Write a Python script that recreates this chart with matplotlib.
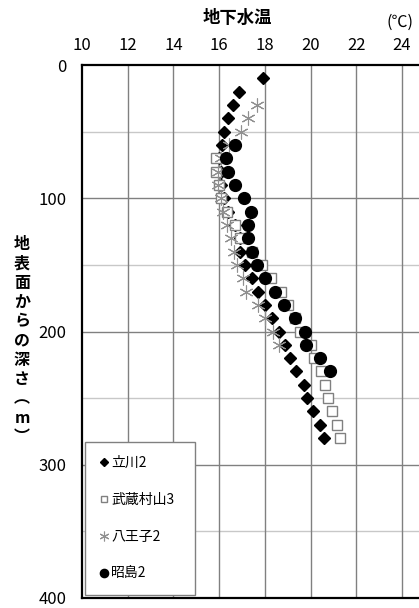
import numpy as np
import matplotlib
matplotlib.use("Agg")
import matplotlib.pyplot as plt

plt.rcParams['font.family'] = ['Noto Sans CJK JP', 'DejaVu Sans']

# 深さ(m)と地下水温(℃)
depth_tachikawa = [10, 20, 30, 40, 50, 60, 70, 80, 90, 100, 110, 120, 130, 140, 150, 160, 170,
                   180, 190, 200, 210, 220, 230, 240, 250, 260, 270, 280]
temp_tachikawa = [17.93, 16.89, 16.61, 16.39, 16.22, 16.11, 16.0, 16.1, 16.1, 16.2, 16.4, 16.7, 16.9,
                  16.92, 17.13, 17.42, 17.69, 18.0, 18.33, 18.6, 18.9, 19.09, 19.38, 19.71, 19.85,
                  20.11, 20.41, 20.58]

depth_musashi = [70, 80, 90, 100, 110, 120, 130, 140, 150, 160, 170, 180, 190, 200, 210, 220,
                 230, 240, 250, 260, 270, 280]
temp_musashi = [15.87, 15.87, 15.98, 16.07, 16.35, 16.68, 16.91, 17.45, 17.89, 18.28, 18.69,
                19.03, 19.3, 19.56, 20.0, 20.15, 20.44, 20.62, 20.77, 20.92, 21.14, 21.31]

depth_hachioji = [30, 40, 50, 60, 70, 80, 90, 100, 110, 120, 130, 140, 150, 160, 170, 180, 190,
                  200, 210]
temp_hachioji = [17.67, 17.26, 16.97, 16.45, 16.1, 15.93, 15.97, 16.07, 16.18, 16.36, 16.51,
                 16.65, 16.77, 17.04, 17.16, 17.69, 18.03, 18.34, 18.6]

depth_akishima = [60, 70, 80, 90, 100, 110, 120, 130, 140, 150, 160, 170, 180, 190, 200, 210,
                  220, 230]
temp_akishima = [16.68, 16.32, 16.39, 16.69, 17.11, 17.38, 17.26, 17.26, 17.42, 17.67, 18.03,
                 18.43, 18.83, 19.3, 19.74, 19.82, 20.41, 20.85]

labels = ['立川2', '武蔵村山3', '八王子2', '昭島2']
xticks = [10, 12, 14, 16, 18, 20, 22, 24]
yticks = [0, 100, 200, 300, 400]

fig = plt.figure(figsize=(4.19, 6.08), dpi=100)
ax = fig.add_axes([82 / 419, 1 - 598 / 608, 1 - 82 / 419, (598 - 65) / 608])

# 格子線
for y in [50, 150, 250, 350]:
    ax.axhline(y, color='#c8c8c8', lw=1, zorder=0)
for y in [100, 200, 300]:
    ax.axhline(y, color='#808080', lw=1, zorder=0)
for x in xticks[1:]:
    ax.axvline(x, color='#808080', lw=1, zorder=0)

ax.plot(temp_tachikawa, depth_tachikawa, 'D', color='black', ms=6, ls='none', label=labels[0], zorder=3)
ax.plot(temp_musashi, depth_musashi, 's', mfc='white', mec='#808080', mew=1, ms=7, ls='none',
        label=labels[1], zorder=4)
ax.plot(temp_hachioji, depth_hachioji, marker=(6, 2, 0), color='#909090', mew=0.8, ms=10, ls='none',
        label=labels[2], zorder=5)
ax.plot(temp_akishima, depth_akishima, 'o', color='black', ms=8.5, ls='none', label=labels[3], zorder=6)

ax.set_xlim(10, 10 + (419 - 82) / 22.85)
ax.set_ylim(400, 0)
ax.set_xticks(xticks)
ax.set_yticks(yticks)
ax.xaxis.tick_top()
ax.tick_params(axis='both', length=0, labelsize=12)
ax.tick_params(axis='x', pad=8)
ax.tick_params(axis='y', pad=11)
for s in ax.spines.values():
    s.set_linewidth(1.6)
    s.set_color('black')
ax.spines['right'].set_visible(False)

fig.text(237 / 419, 1 - 18 / 608, '地下水温', ha='center', va='center', fontsize=12.5, fontweight='bold')
fig.text(400 / 419, 1 - 22 / 608, '(℃)', ha='center', va='center', fontsize=11.5)

ylabel_chars = ['地', '表', '面', 'か', 'ら', 'の', '深', 'さ', '︵', 'm', '︶']
for i, ch in enumerate(ylabel_chars):
    fig.text(22 / 419, 1 - (244 + 19.3 * i) / 608, ch, ha='center', va='center',
             fontsize=11.5, fontweight='bold')

leg = ax.legend(loc='upper left', bbox_to_anchor=(85 / 419, 1 - 442 / 608, 110 / 419, 0),
                bbox_transform=fig.transFigure, mode='expand', fontsize=10, markerscale=0.7,
                handlelength=0.7, handletextpad=0.2, labelspacing=1.65, borderpad=1.0,
                borderaxespad=0, fancybox=False, framealpha=1)
leg.get_frame().set_edgecolor('#808080')
leg.get_frame().set_linewidth(1)

fig.savefig('out.png', dpi=100)
